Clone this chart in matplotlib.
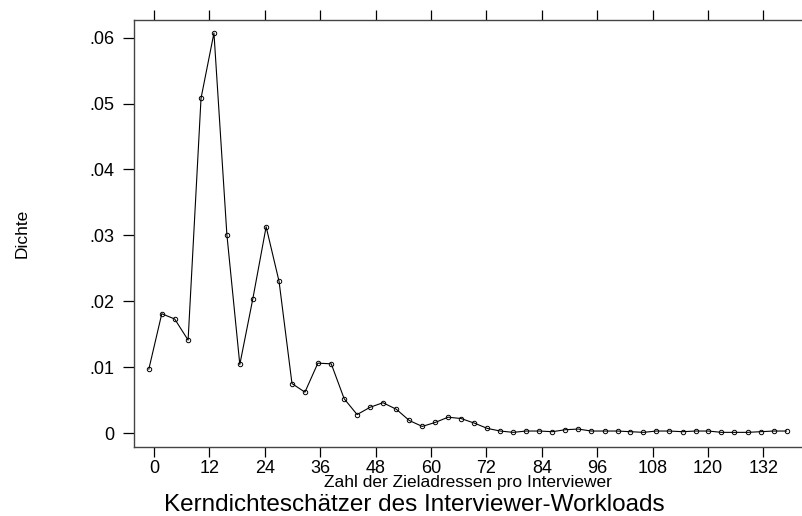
import matplotlib
matplotlib.use("Agg")
import matplotlib.pyplot as plt

plt.rcParams['font.family'] = ['Liberation Sans', 'DejaVu Sans']

# evaluation points of the kernel density estimate
workload = [-1.1, 1.7, 4.5, 7.4, 10.2, 13.0, 15.8, 18.6, 21.4, 24.3,
            27.1, 29.9, 32.7, 35.5, 38.4, 41.2, 44.0, 46.8, 49.6, 52.5,
            55.3, 58.1, 60.9, 63.7, 66.5, 69.4, 72.2, 75.0, 77.8, 80.6,
            83.5, 86.3, 89.1, 91.9, 94.7, 97.6, 100.4, 103.2, 106.0, 108.8,
            111.6, 114.5, 117.3, 120.1, 122.9, 125.7, 128.6, 131.4, 134.2, 137.0]

dichte = [0.0097, 0.0181, 0.0173, 0.0141, 0.0508, 0.0607, 0.0301, 0.0104, 0.0203, 0.0313,
          0.0230, 0.0075, 0.0062, 0.0106, 0.0105, 0.0052, 0.0028, 0.0039, 0.0046, 0.0036,
          0.0019, 0.0010, 0.0016, 0.0024, 0.0022, 0.0015, 0.0007, 0.0003, 0.0001, 0.0003,
          0.0003, 0.0002, 0.0005, 0.0006, 0.0003, 0.0003, 0.0003, 0.0002, 0.0001, 0.0003,
          0.0003, 0.0002, 0.0003, 0.0003, 0.0001, 0.0001, 0.0001, 0.0002, 0.0003, 0.0003]

xticks = [0, 12, 24, 36, 48, 60, 72, 84, 96, 108, 120, 132]
yticks = [0, 0.01, 0.02, 0.03, 0.04, 0.05, 0.06]
ylabels = ['0', '.01', '.02', '.03', '.04', '.05', '.06']

fig = plt.figure(figsize=(8.02, 5.16), dpi=100)
ax = fig.add_axes([0.167, 0.1337, 0.833, 0.8275])

ax.plot(workload, dichte, color='black', lw=0.8, marker='o', ms=3.2,
        mfc='none', mec='black', mew=0.7)

ax.set_xlim(-4.33, 140.35)
ax.set_ylim(-0.002124, 0.06267)

ax.set_xticks(xticks)
ax.set_yticks(yticks)
ax.set_yticklabels(ylabels)

for side in ['left', 'top', 'bottom']:
    ax.spines[side].set_color('#444444')
    ax.spines[side].set_linewidth(1.0)
ax.spines['right'].set_visible(False)

ax.tick_params(axis='x', direction='out', length=7, width=0.9, labelsize=13,
               pad=2, top=True, labeltop=False)
ax.tick_params(axis='y', direction='out', length=8, width=0.9, labelsize=13, pad=6)

fig.text(0.027, 1 - 233.5 / 516, 'Dichte', rotation=90, ha='center', va='center',
         fontsize=12.5)
fig.text(468 / 802, 1 - 482.7 / 516, 'Zahl der Zieladressen pro Interviewer',
         ha='center', va='center', fontsize=12.5)
fig.text(414 / 802, 1 - 505 / 516, 'Kerndichteschätzer des Interviewer-Workloads',
         ha='center', va='center', fontsize=17.5)

fig.savefig('out.png', dpi=100)
